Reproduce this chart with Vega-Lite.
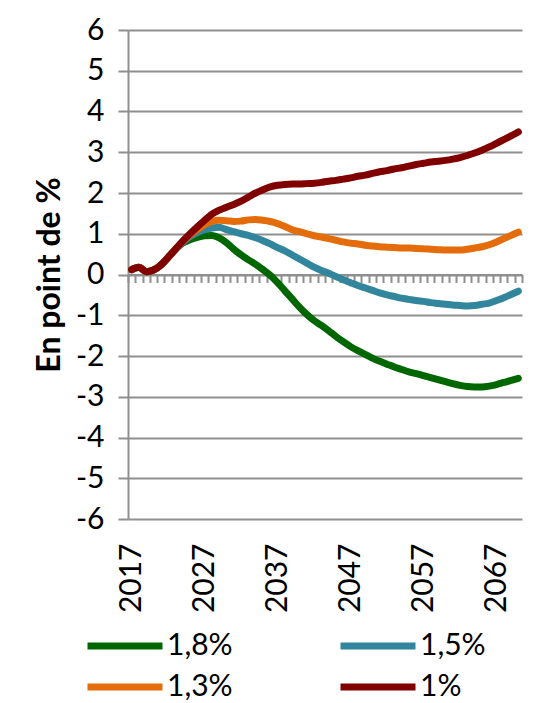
{
  "$schema": "https://vega.github.io/schema/vega-lite/v6.json",
  "width": 394,
  "height": 489,
  "autosize": {"type": "none"},
  "padding": {"left": 128, "top": 30, "right": 23, "bottom": 184},
  "background": "white",
  "config": {
    "view": {"stroke": null},
    "font": "Lato",
    "axis": {"labelFont": "Lato", "titleFont": "Lato", "labelColor": "#000000", "titleColor": "#000000"}
  },
  "data": {"values": [
{"year":2017,"serie":"1,8%","value":0.12},{"year":2018,"serie":"1,8%","value":0.18},{"year":2019,"serie":"1,8%","value":0.07},{"year":2020,"serie":"1,8%","value":0.11},{"year":2021,"serie":"1,8%","value":0.23},{"year":2022,"serie":"1,8%","value":0.42},{"year":2023,"serie":"1,8%","value":0.62},{"year":2024,"serie":"1,8%","value":0.77},{"year":2025,"serie":"1,8%","value":0.85},{"year":2026,"serie":"1,8%","value":0.91},{"year":2027,"serie":"1,8%","value":0.95},{"year":2028,"serie":"1,8%","value":0.96},{"year":2029,"serie":"1,8%","value":0.9},{"year":2030,"serie":"1,8%","value":0.78},{"year":2031,"serie":"1,8%","value":0.62},{"year":2032,"serie":"1,8%","value":0.48},{"year":2033,"serie":"1,8%","value":0.36},{"year":2034,"serie":"1,8%","value":0.25},{"year":2035,"serie":"1,8%","value":0.12},{"year":2036,"serie":"1,8%","value":-0.02},{"year":2037,"serie":"1,8%","value":-0.2},{"year":2038,"serie":"1,8%","value":-0.4},{"year":2039,"serie":"1,8%","value":-0.6},{"year":2040,"serie":"1,8%","value":-0.8},{"year":2041,"serie":"1,8%","value":-0.98},{"year":2042,"serie":"1,8%","value":-1.13},{"year":2043,"serie":"1,8%","value":-1.25},{"year":2044,"serie":"1,8%","value":-1.38},{"year":2045,"serie":"1,8%","value":-1.52},{"year":2046,"serie":"1,8%","value":-1.65},{"year":2047,"serie":"1,8%","value":-1.77},{"year":2048,"serie":"1,8%","value":-1.87},{"year":2049,"serie":"1,8%","value":-1.96},{"year":2050,"serie":"1,8%","value":-2.05},{"year":2051,"serie":"1,8%","value":-2.13},{"year":2052,"serie":"1,8%","value":-2.2},{"year":2053,"serie":"1,8%","value":-2.27},{"year":2054,"serie":"1,8%","value":-2.33},{"year":2055,"serie":"1,8%","value":-2.39},{"year":2056,"serie":"1,8%","value":-2.43},{"year":2057,"serie":"1,8%","value":-2.48},{"year":2058,"serie":"1,8%","value":-2.53},{"year":2059,"serie":"1,8%","value":-2.58},{"year":2060,"serie":"1,8%","value":-2.63},{"year":2061,"serie":"1,8%","value":-2.68},{"year":2062,"serie":"1,8%","value":-2.72},{"year":2063,"serie":"1,8%","value":-2.75},{"year":2064,"serie":"1,8%","value":-2.76},{"year":2065,"serie":"1,8%","value":-2.76},{"year":2066,"serie":"1,8%","value":-2.74},{"year":2067,"serie":"1,8%","value":-2.7},{"year":2068,"serie":"1,8%","value":-2.65},{"year":2069,"serie":"1,8%","value":-2.6},{"year":2070,"serie":"1,8%","value":-2.55},
{"year":2017,"serie":"1,5%","value":0.12},{"year":2018,"serie":"1,5%","value":0.18},{"year":2019,"serie":"1,5%","value":0.07},{"year":2020,"serie":"1,5%","value":0.11},{"year":2021,"serie":"1,5%","value":0.23},{"year":2022,"serie":"1,5%","value":0.42},{"year":2023,"serie":"1,5%","value":0.62},{"year":2024,"serie":"1,5%","value":0.79},{"year":2025,"serie":"1,5%","value":0.93},{"year":2026,"serie":"1,5%","value":1.03},{"year":2027,"serie":"1,5%","value":1.1},{"year":2028,"serie":"1,5%","value":1.14},{"year":2029,"serie":"1,5%","value":1.16},{"year":2030,"serie":"1,5%","value":1.1},{"year":2031,"serie":"1,5%","value":1.05},{"year":2032,"serie":"1,5%","value":1.0},{"year":2033,"serie":"1,5%","value":0.96},{"year":2034,"serie":"1,5%","value":0.9},{"year":2035,"serie":"1,5%","value":0.83},{"year":2036,"serie":"1,5%","value":0.75},{"year":2037,"serie":"1,5%","value":0.66},{"year":2038,"serie":"1,5%","value":0.58},{"year":2039,"serie":"1,5%","value":0.48},{"year":2040,"serie":"1,5%","value":0.38},{"year":2041,"serie":"1,5%","value":0.28},{"year":2042,"serie":"1,5%","value":0.18},{"year":2043,"serie":"1,5%","value":0.1},{"year":2044,"serie":"1,5%","value":0.03},{"year":2045,"serie":"1,5%","value":-0.05},{"year":2046,"serie":"1,5%","value":-0.13},{"year":2047,"serie":"1,5%","value":-0.2},{"year":2048,"serie":"1,5%","value":-0.27},{"year":2049,"serie":"1,5%","value":-0.33},{"year":2050,"serie":"1,5%","value":-0.39},{"year":2051,"serie":"1,5%","value":-0.45},{"year":2052,"serie":"1,5%","value":-0.5},{"year":2053,"serie":"1,5%","value":-0.54},{"year":2054,"serie":"1,5%","value":-0.58},{"year":2055,"serie":"1,5%","value":-0.61},{"year":2056,"serie":"1,5%","value":-0.64},{"year":2057,"serie":"1,5%","value":-0.66},{"year":2058,"serie":"1,5%","value":-0.69},{"year":2059,"serie":"1,5%","value":-0.71},{"year":2060,"serie":"1,5%","value":-0.73},{"year":2061,"serie":"1,5%","value":-0.75},{"year":2062,"serie":"1,5%","value":-0.76},{"year":2063,"serie":"1,5%","value":-0.77},{"year":2064,"serie":"1,5%","value":-0.76},{"year":2065,"serie":"1,5%","value":-0.73},{"year":2066,"serie":"1,5%","value":-0.7},{"year":2067,"serie":"1,5%","value":-0.64},{"year":2068,"serie":"1,5%","value":-0.57},{"year":2069,"serie":"1,5%","value":-0.49},{"year":2070,"serie":"1,5%","value":-0.41},
{"year":2017,"serie":"1,3%","value":0.12},{"year":2018,"serie":"1,3%","value":0.18},{"year":2019,"serie":"1,3%","value":0.07},{"year":2020,"serie":"1,3%","value":0.11},{"year":2021,"serie":"1,3%","value":0.23},{"year":2022,"serie":"1,3%","value":0.42},{"year":2023,"serie":"1,3%","value":0.62},{"year":2024,"serie":"1,3%","value":0.81},{"year":2025,"serie":"1,3%","value":0.97},{"year":2026,"serie":"1,3%","value":1.1},{"year":2027,"serie":"1,3%","value":1.22},{"year":2028,"serie":"1,3%","value":1.3},{"year":2029,"serie":"1,3%","value":1.33},{"year":2030,"serie":"1,3%","value":1.32},{"year":2031,"serie":"1,3%","value":1.3},{"year":2032,"serie":"1,3%","value":1.31},{"year":2033,"serie":"1,3%","value":1.34},{"year":2034,"serie":"1,3%","value":1.35},{"year":2035,"serie":"1,3%","value":1.33},{"year":2036,"serie":"1,3%","value":1.3},{"year":2037,"serie":"1,3%","value":1.25},{"year":2038,"serie":"1,3%","value":1.18},{"year":2039,"serie":"1,3%","value":1.1},{"year":2040,"serie":"1,3%","value":1.05},{"year":2041,"serie":"1,3%","value":1.0},{"year":2042,"serie":"1,3%","value":0.95},{"year":2043,"serie":"1,3%","value":0.92},{"year":2044,"serie":"1,3%","value":0.88},{"year":2045,"serie":"1,3%","value":0.84},{"year":2046,"serie":"1,3%","value":0.8},{"year":2047,"serie":"1,3%","value":0.77},{"year":2048,"serie":"1,3%","value":0.75},{"year":2049,"serie":"1,3%","value":0.72},{"year":2050,"serie":"1,3%","value":0.7},{"year":2051,"serie":"1,3%","value":0.68},{"year":2052,"serie":"1,3%","value":0.67},{"year":2053,"serie":"1,3%","value":0.66},{"year":2054,"serie":"1,3%","value":0.65},{"year":2055,"serie":"1,3%","value":0.65},{"year":2056,"serie":"1,3%","value":0.64},{"year":2057,"serie":"1,3%","value":0.63},{"year":2058,"serie":"1,3%","value":0.62},{"year":2059,"serie":"1,3%","value":0.61},{"year":2060,"serie":"1,3%","value":0.6},{"year":2061,"serie":"1,3%","value":0.6},{"year":2062,"serie":"1,3%","value":0.6},{"year":2063,"serie":"1,3%","value":0.62},{"year":2064,"serie":"1,3%","value":0.65},{"year":2065,"serie":"1,3%","value":0.68},{"year":2066,"serie":"1,3%","value":0.73},{"year":2067,"serie":"1,3%","value":0.8},{"year":2068,"serie":"1,3%","value":0.88},{"year":2069,"serie":"1,3%","value":0.96},{"year":2070,"serie":"1,3%","value":1.04},
{"year":2017,"serie":"1%","value":0.12},{"year":2018,"serie":"1%","value":0.18},{"year":2019,"serie":"1%","value":0.07},{"year":2020,"serie":"1%","value":0.11},{"year":2021,"serie":"1%","value":0.23},{"year":2022,"serie":"1%","value":0.42},{"year":2023,"serie":"1%","value":0.62},{"year":2024,"serie":"1%","value":0.82},{"year":2025,"serie":"1%","value":1.0},{"year":2026,"serie":"1%","value":1.17},{"year":2027,"serie":"1%","value":1.33},{"year":2028,"serie":"1%","value":1.48},{"year":2029,"serie":"1%","value":1.58},{"year":2030,"serie":"1%","value":1.65},{"year":2031,"serie":"1%","value":1.72},{"year":2032,"serie":"1%","value":1.8},{"year":2033,"serie":"1%","value":1.9},{"year":2034,"serie":"1%","value":2.0},{"year":2035,"serie":"1%","value":2.08},{"year":2036,"serie":"1%","value":2.15},{"year":2037,"serie":"1%","value":2.19},{"year":2038,"serie":"1%","value":2.21},{"year":2039,"serie":"1%","value":2.22},{"year":2040,"serie":"1%","value":2.22},{"year":2041,"serie":"1%","value":2.23},{"year":2042,"serie":"1%","value":2.24},{"year":2043,"serie":"1%","value":2.26},{"year":2044,"serie":"1%","value":2.29},{"year":2045,"serie":"1%","value":2.31},{"year":2046,"serie":"1%","value":2.34},{"year":2047,"serie":"1%","value":2.37},{"year":2048,"serie":"1%","value":2.41},{"year":2049,"serie":"1%","value":2.44},{"year":2050,"serie":"1%","value":2.48},{"year":2051,"serie":"1%","value":2.52},{"year":2052,"serie":"1%","value":2.55},{"year":2053,"serie":"1%","value":2.59},{"year":2054,"serie":"1%","value":2.62},{"year":2055,"serie":"1%","value":2.66},{"year":2056,"serie":"1%","value":2.7},{"year":2057,"serie":"1%","value":2.73},{"year":2058,"serie":"1%","value":2.76},{"year":2059,"serie":"1%","value":2.78},{"year":2060,"serie":"1%","value":2.8},{"year":2061,"serie":"1%","value":2.83},{"year":2062,"serie":"1%","value":2.87},{"year":2063,"serie":"1%","value":2.92},{"year":2064,"serie":"1%","value":2.98},{"year":2065,"serie":"1%","value":3.05},{"year":2066,"serie":"1%","value":3.13},{"year":2067,"serie":"1%","value":3.22},{"year":2068,"serie":"1%","value":3.31},{"year":2069,"serie":"1%","value":3.4},{"year":2070,"serie":"1%","value":3.5}
  ]},
  "resolve": {"axis": {"x": "independent", "y": "independent"}},
  "layer": [
    {
      "mark": {"type": "line", "opacity": 0},
      "encoding": {
        "x": {
          "field": "year", "type": "quantitative",
          "scale": {"domain": [2016.5, 2070.5], "nice": false, "zero": false},
          "axis": {
            "orient": "bottom", "offset": -244.5, "title": null, "labels": false, "grid": false,
            "domain": true, "domainColor": "#8f8f8f", "domainWidth": 2,
            "ticks": true, "tickColor": "#8f8f8f", "tickWidth": 2, "tickSize": 8,
            "values": [2016.5,2017.5,2018.5,2019.5,2020.5,2021.5,2022.5,2023.5,2024.5,2025.5,2026.5,2027.5,2028.5,2029.5,2030.5,2031.5,2032.5,2033.5,2034.5,2035.5,2036.5,2037.5,2038.5,2039.5,2040.5,2041.5,2042.5,2043.5,2044.5,2045.5,2046.5,2047.5,2048.5,2049.5,2050.5,2051.5,2052.5,2053.5,2054.5,2055.5,2056.5,2057.5,2058.5,2059.5,2060.5,2061.5,2062.5,2063.5,2064.5,2065.5,2066.5,2067.5,2068.5,2069.5,2070.5],
            "zindex": 0
          }
        },
        "y": {
          "field": "value", "type": "quantitative",
          "scale": {"domain": [-6, 6], "nice": false},
          "axis": null
        },
        "detail": {"field": "serie"}
      }
    },
    {
      "mark": {"type": "line", "strokeWidth": 7, "interpolate": "monotone", "strokeCap": "round", "strokeJoin": "round"},
      "encoding": {
        "x": {
          "field": "year", "type": "quantitative",
          "axis": {
            "orient": "bottom", "title": null, "grid": false, "domain": false, "ticks": false,
            "values": [2017, 2027, 2037, 2047, 2057, 2067], "format": "d",
            "labelAngle": -90, "labelPadding": 24, "labelFontSize": 30, "labelFlush": false, "labelOverlap": false,
            "zindex": 0
          }
        },
        "y": {
          "field": "value", "type": "quantitative",
          "axis": {
            "orient": "left",
            "title": "En point de %", "titleFontSize": 32, "titleFontWeight": "bold", "titlePadding": 9,
            "values": [-6,-5,-4,-3,-2,-1,0,1,2,3,4,5,6],
            "labelExpr": "datum.value < 0 ? '-' + abs(datum.value) : '' + datum.value",
            "labelFontSize": 30, "labelPadding": 14,
            "grid": true, "gridColor": "#8f8f8f", "gridWidth": 2,
            "domain": true, "domainColor": "#8f8f8f", "domainWidth": 2,
            "ticks": true, "tickColor": "#8f8f8f", "tickWidth": 2, "tickSize": 10,
            "zindex": 0
          }
        },
        "color": {
          "field": "serie", "type": "nominal",
          "scale": {"domain": ["1,8%", "1,5%", "1,3%", "1%"], "range": ["#006600", "#31859C", "#E46C0A", "#800000"]},
          "legend": {
            "title": null, "orient": "none", "legendX": -44, "legendY": 601,
            "direction": "horizontal", "columns": 2,
            "symbolType": "stroke", "symbolSize": 5625, "symbolStrokeWidth": 7, "clipHeight": 30,
            "labelFont": "Lato", "labelFontSize": 30, "labelColor": "#000000", "labelOffset": 1,
            "columnPadding": 104, "rowPadding": 11, "padding": 0
          }
        }
      }
    }
  ]
}
